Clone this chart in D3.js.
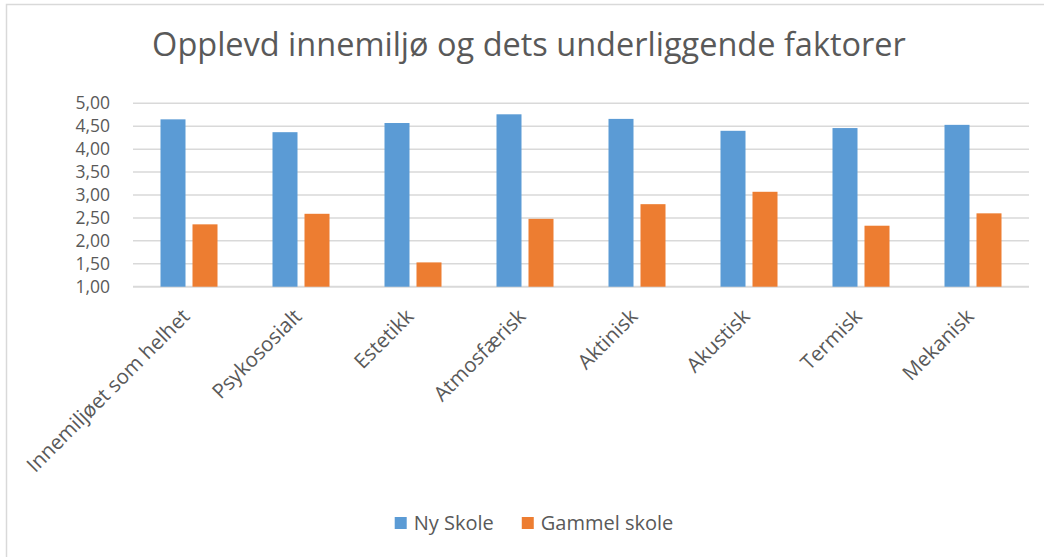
<!DOCTYPE html>
<html>
<head>
<meta charset="utf-8">
<script src="https://cdn.jsdelivr.net/npm/d3@7"></script>
<style>
  html, body { margin: 0; padding: 0; background: #fff; }
  svg { display: block; }
  text { font-family: "Open Sans", "Liberation Sans", sans-serif; fill: #595959; }
</style>
</head>
<body>
<svg id="chart" width="1044" height="557"></svg>
<script>
const title = "Opplevd innemiljø og dets underliggende faktorer";
const categories = ["Innemiljøet som helhet", "Psykososialt", "Estetikk", "Atmosfærisk", "Aktinisk", "Akustisk", "Termisk", "Mekanisk"];
const seriesNames = ["Ny Skole", "Gammel skole"];
const nySkole = [4.65, 4.37, 4.57, 4.76, 4.66, 4.40, 4.46, 4.53];
const gammelSkole = [2.36, 2.59, 1.53, 2.48, 2.80, 3.07, 2.33, 2.60];
const yTicks = [1.0, 1.5, 2.0, 2.5, 3.0, 3.5, 4.0, 4.5, 5.0];
const colors = ["#5B9BD5", "#ED7D31"];

const seriesValues = [nySkole, gammelSkole];
const svg = d3.select("#chart");

// chart border
svg.append("rect")
  .attr("x", 6.5).attr("y", 4.5)
  .attr("width", 1060).attr("height", 600)
  .attr("fill", "none").attr("stroke", "#d9d9d9").attr("stroke-width", 1.5);

const plot = { left: 133, right: 1029, top: 103.3, bottom: 286.7 };

const x0 = d3.scaleBand().domain(categories).range([plot.left, plot.right]).paddingInner(0).paddingOuter(0);
const groupW = x0.bandwidth() * (57 / 112);
const x1 = d3.scaleBand().domain(seriesNames)
  .range([(x0.bandwidth() - groupW) / 2, (x0.bandwidth() + groupW) / 2])
  .paddingInner(0.21875).paddingOuter(0);
const y = d3.scaleLinear().domain([1, 5]).range([plot.bottom, plot.top]);

// gridlines
svg.append("g").selectAll("line").data(yTicks).join("line")
  .attr("x1", plot.left).attr("x2", plot.right)
  .attr("y1", d => y(d)).attr("y2", d => y(d))
  .attr("stroke", "#d9d9d9").attr("stroke-width", d => d === 1 ? 2 : 1.5);

// y axis labels
const fmt = d => d.toFixed(2).replace(".", ",");
const yAxis = d3.axisLeft(y).tickValues(yTicks).tickFormat(fmt).tickSize(0).tickPadding(0);
const yg = svg.append("g").attr("transform", `translate(110,0)`).call(yAxis);
yg.select(".domain").remove();
yg.selectAll("text").attr("font-size", 17.5).attr("fill", "#595959")
  .style("font-family", '"Open Sans", "Liberation Sans", sans-serif');

// bars
const rows = categories.map((c, i) => ({ cat: c, vals: seriesValues.map((s, j) => ({ name: seriesNames[j], v: s[i], color: colors[j] })) }));
const groups = svg.append("g").selectAll("g").data(rows).join("g")
  .attr("transform", d => `translate(${x0(d.cat)},0)`);
groups.selectAll("rect").data(d => d.vals).join("rect")
  .attr("x", d => x1(d.name))
  .attr("width", x1.bandwidth())
  .attr("y", d => y(d.v))
  .attr("height", d => y(1) - y(d.v))
  .attr("fill", d => d.color);

// x axis labels
const xAxis = d3.axisBottom(x0).tickSize(0).tickPadding(0);
const xg = svg.append("g").attr("transform", `translate(0,${plot.bottom})`).call(xAxis);
xg.select(".domain").remove();
xg.selectAll(".tick text")
  .attr("font-size", 20.5).attr("fill", "#595959")
  .style("font-family", '"Open Sans", "Liberation Sans", sans-serif')
  .attr("text-anchor", "end")
  .attr("y", 0).attr("dy", 0)
  .attr("transform", "translate(2,31) rotate(-45)");

// title
const t = svg.append("text").text(title)
  .attr("x", 529).attr("y", 56).attr("text-anchor", "middle").attr("font-size", 30);
const tw = t.node().getComputedTextLength();
t.attr("font-size", 30 * 754 / tw);

// legend
const legend = svg.append("g");
const items = legend.selectAll("g").data(seriesNames).join("g");
items.append("rect").attr("width", 12).attr("height", 12).attr("y", -12.5)
  .attr("fill", (d, i) => colors[i]);
items.append("text").text(d => d).attr("x", 19).attr("y", 0).attr("font-size", 20);
let cx = 0;
const positions = [];
items.each(function () {
  positions.push(cx);
  const w = 19 + d3.select(this).select("text").node().getComputedTextLength();
  cx += w + 28;
});
const totalW = cx - 28;
items.attr("transform", (d, i) => `translate(${534 - totalW / 2 + positions[i]},529.5)`);
</script>
</body>
</html>
